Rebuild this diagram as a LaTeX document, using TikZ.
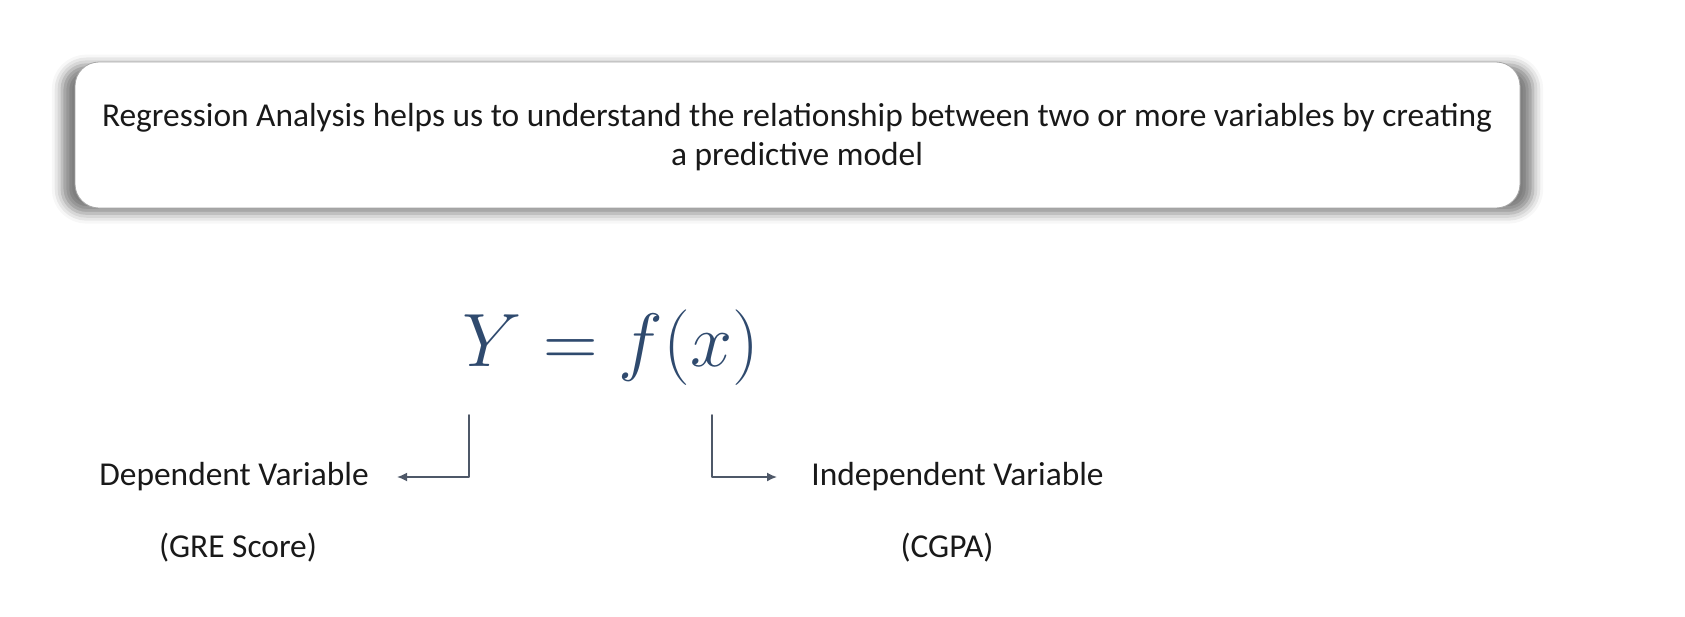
\documentclass[tikz,border=0pt]{standalone}
\usepackage{graphicx}
\usepackage{fontspec}
\setmainfont{Carlito}
\usetikzlibrary{shadows.blur,arrows.meta}
\definecolor{eqblue}{RGB}{47,74,110}
\definecolor{linkgray}{RGB}{78,88,104}
\definecolor{txtblack}{RGB}{25,25,25}
\tikzset{
  notebox/.style={draw=gray!70,fill=white,rounded corners=12pt,
    blur shadow={shadow scale=1.018,shadow xshift=0pt,shadow yshift=-2pt,
      shadow blur radius=5pt,shadow opacity=50}},
  vartext/.style={text=txtblack,font=\fontsize{16.7}{19.5}\selectfont,inner sep=0pt},
  link/.style={draw=linkgray,line width=0.8pt,-{Latex[length=5pt,width=4.5pt]}}
}
\begin{document}
\begin{tikzpicture}[x=0.5pt,y=-0.5pt,line cap=round,line join=round]
  \useasboundingbox (0,0) rectangle (1685,616);
  % definition box
  \path[notebox] (75,62) rectangle (1520,208);
  \node[vartext,align=center] (def) at (797,137)
    {Regression Analysis helps us to understand the relationship between two or more variables by creating\\
     a predictive model};
  % the model
  \node[text=eqblue,font=\fontsize{24.88}{30}\selectfont,inner sep=0pt,anchor=base] (eq) at (611,366)
    {\scalebox{1.52}{$Y = f(x)$}};
  \coordinate (ytop) at (469,415);
  \coordinate (xtop) at (712,415);
  \node[vartext,anchor=west] (dep) at (99,477) {Dependent Variable};
  \node[vartext,anchor=west] (indep) at (811,477) {Independent Variable};
  \node[vartext] (depex) at (238,548) {(GRE Score)};
  \node[vartext] (indepex) at (947,548) {(CGPA)};
  \draw[link,shorten >=14pt] (ytop) |- (dep.east);
  \draw[link,shorten >=17pt] (xtop) |- (indep.west);
\end{tikzpicture}
\end{document}
